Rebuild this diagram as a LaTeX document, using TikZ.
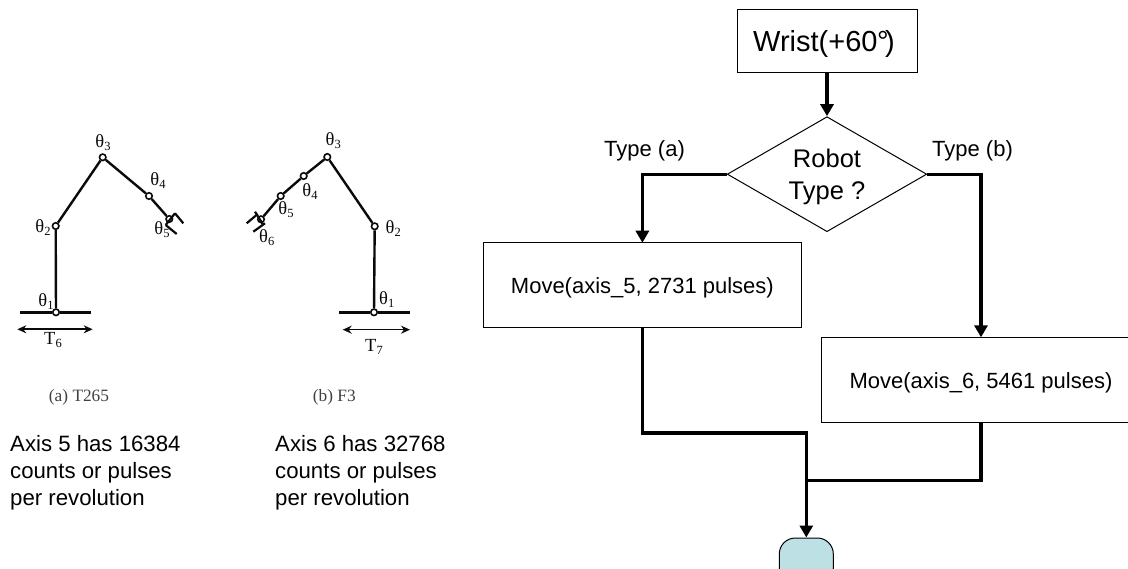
\documentclass[tikz,border=0pt]{standalone}
\usepackage{fontspec}
\setmainfont{Liberation Sans}
\newfontfamily\timesf{Liberation Serif}
\usetikzlibrary{arrows.meta,shapes.geometric,calc}
\newcommand{\thlab}[1]{{\timesf\fontsize{18.5}{18}\selectfont θ\raisebox{-3pt}{\fontsize{12.5}{12}\selectfont #1}}}
\newcommand{\tlab}[1]{{\timesf\fontsize{18.5}{18}\selectfont T\raisebox{-3pt}{\fontsize{12.5}{12}\selectfont #1}}}
\definecolor{termfill}{HTML}{BCE0E4}
\definecolor{armgray}{HTML}{0A0A0A}
\tikzset{
  procbox/.style={draw=black,line width=1pt,fill=white,rectangle,inner sep=0pt,outer sep=0pt},
  flowline/.style={line width=3.2pt,draw=black},
  flowarrow/.style={flowline,-{Triangle[length=12pt,width=13pt]}},
  flowtext/.style={inner sep=0pt,anchor=base,font=\fontsize{22}{26}\selectfont},
  sidetext/.style={inner sep=0pt,anchor=north west,align=left,font=\fontsize{22.2}{26.7}\selectfont},
  joint/.style={circle,draw=armgray,fill=white,line width=1.6pt,minimum size=6.5pt,inner sep=0pt},
  link/.style={draw=armgray,line width=2.4pt},
  baseline/.style={draw=armgray,line width=3pt},
  finger/.style={draw=armgray,line width=2.2pt},
  span/.style={draw=armgray,line width=1.6pt,{Stealth[length=9pt,width=8pt]}-{Stealth[length=9pt,width=8pt]}},
  armtext/.style={inner sep=0pt,text=armgray},
  caption/.style={inner sep=0pt,text=black!75,font=\timesf\fontsize{17.3}{20}\selectfont},
}
\begin{document}
\begin{tikzpicture}[x=1pt,y=-1pt]
\path[use as bounding box] (0,0) rectangle (1128,569);
\clip (0,0) rectangle (1128,569);
% --- left arm
\node[joint] (a1) at (56,312.3) {};
\node[joint] (a2) at (55.7,226) {};
\node[joint] (a3) at (102.7,157.3) {};
\node[joint] (a4) at (149,196) {};
\node[joint] (a5) at (169.3,219) {};
\coordinate (ab1) at (20,312.3);
\coordinate (ab2) at (91,312.3);
\coordinate (as1) at (17.3,329.3);
\coordinate (as2) at (92.7,329.3);
\draw[baseline] (ab1) -- (a1) (a1) -- (ab2);
\draw[link] (a1) -- (a2);
\draw[link] (a2) -- (a3);
\draw[link] (a3) -- (a4);
\draw[link] (a4) -- (a5);
\draw[finger] (175,213.3) -- (183.3,223.3);
\draw[finger] (165.7,225) -- (176.7,234);
\draw[finger] (175,213.3) -- (165.7,225);
\draw[span] (as1) -- (as2);
\node[armtext] (la1) at (46,302) {\thlab{1}};
\node[armtext] (la2) at (43,228) {\thlab{2}};
\node[armtext] (la3) at (103,143) {\thlab{3}};
\node[armtext] (la4) at (158,181) {\thlab{4}};
\node[armtext] (la5) at (162,230) {\thlab{5}};
\node[armtext] (lat) at (53,340) {\tlab{6}};
\node[caption] (capa) at (79,397) {(a) T265};
% --- right arm
\node[joint] (b1) at (374,312.3) {};
\node[joint] (b2) at (374.7,226.3) {};
\node[joint] (b3) at (327.3,157) {};
\node[joint] (b4) at (303.7,176) {};
\node[joint] (b5) at (280.7,196) {};
\node[joint] (b6) at (261,219.3) {};
\coordinate (bb1) at (339.3,312.3);
\coordinate (bb2) at (410.3,312.3);
\coordinate (bs1) at (342.7,329.7);
\coordinate (bs2) at (410,329.7);
\draw[baseline] (bb1) -- (b1) (b1) -- (bb2);
\draw[link] (b1) -- (b2);
\draw[link] (b2) -- (b3);
\draw[link] (b3) -- (b4);
\draw[link] (b4) -- (b5);
\draw[link] (b5) -- (b6);
\draw[finger] (246.7,223.3) -- (257.7,214);
\draw[finger] (253.3,231.7) -- (265,223.3);
\draw[finger] (255,211.7) -- (263.3,225);
\draw[span] (bs1) -- (bs2);
\node[armtext] (lb1) at (386.7,300) {\thlab{1}};
\node[armtext] (lb2) at (393.3,229) {\thlab{2}};
\node[armtext] (lb3) at (333.3,140.7) {\thlab{3}};
\node[armtext] (lb4) at (310,191.7) {\thlab{4}};
\node[armtext] (lb5) at (286,209.3) {\thlab{5}};
\node[armtext] (lb6) at (266.7,237.3) {\thlab{6}};
\node[armtext] (lbt) at (374,347.3) {\tlab{7}};
\node[caption] (capb) at (334.3,397.3) {(b) F3};
% --- side notes
\node[sidetext] (na) at (10,435.5) {Axis 5 has 16384\\counts or pulses\\per revolution};
\node[sidetext] (nb) at (275,435.5) {Axis 6 has 32768\\counts or pulses\\per revolution};
% --- flowchart
\node[procbox,minimum width=180pt,minimum height=63.5pt] (wrist) at (827,41.2) {};
\node[inner sep=0pt,anchor=base west,font=\fontsize{29}{30}\selectfont] (wristt) at (753,51.7) {Wrist(+60\kern-0.5pt°\kern-3.5pt)};
\node[diamond,draw=black,line width=1pt,fill=white,inner sep=0pt,shape aspect=1.73,minimum width=199.5pt,minimum height=115pt] (dia) at (827,174.2) {};
\node[inner sep=0pt,align=center,font=\fontsize{25.5}{32}\selectfont] (diat) at (827,177) {Robot\\Type ?};
\node[procbox,minimum width=317.5pt,minimum height=84.5pt] (mv5) at (642.4,285) {};
\node[flowtext] (mv5t) at (642.4,294) {Move(axis\_5, 2731 pulses)};
\node[procbox,minimum width=318.6pt,minimum height=84.7pt] (mv6) at (981,379.7) {};
\node[flowtext] (mv6t) at (981,388.3) {Move(axis\_6, 5461 pulses)};
\node[flowtext] (ta) at (644.5,156.7) {Type (a)};
\node[flowtext] (tb) at (972.5,156.7) {Type (b)};
\node[draw=black,line width=1pt,fill=termfill,rounded corners=16pt,minimum width=54pt,minimum height=46pt,inner sep=0pt] (term) at (806.3,561) {};
\coordinate (merge1) at (806.3,433);
\coordinate (merge2) at (806.3,480.7);
\draw[flowarrow] (wrist.south) -- (dia.north);
\draw[flowarrow] (dia.west) -| (mv5.north);
\draw[flowarrow] (dia.east) -| (mv6.north);
\draw[flowline] (mv5.south) |- (merge1) -- (merge2);
\draw[flowline] (mv6.south) |- (merge2);
\draw[flowarrow] (merge2) -- (term.north);
\end{tikzpicture}
\end{document}
